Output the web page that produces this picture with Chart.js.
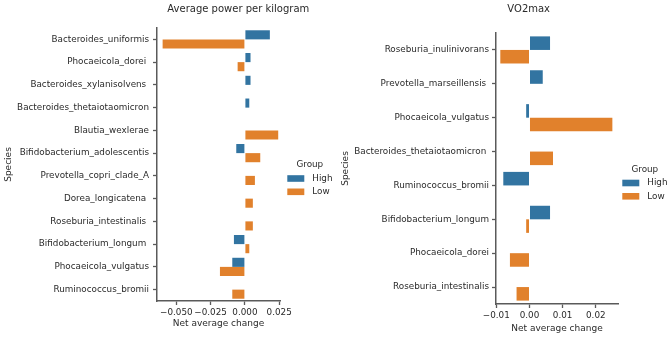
<!DOCTYPE html>
<html>
<head>
<meta charset="utf-8">
<script src="https://cdn.jsdelivr.net/npm/chart.js@4"></script>
<style>
  html,body{margin:0;padding:0;background:#fff;}
  #wrap{position:relative;width:670px;height:337px;overflow:hidden;}
  .panel{position:absolute;top:0;height:337px;}
</style>
</head>
<body>
<div id="wrap">
  <div class="panel" style="left:0;width:340px"><canvas id="c-power"></canvas></div>
  <div class="panel" style="left:340px;width:330px"><canvas id="c-vo2"></canvas></div>
</div>
<script>
// ── Data ──────────────────────────────────────────────────────────────────────
const GROUPS = ['High', 'Low'];
const COLORS = ['#3274a1', '#e1812c'];

const POWER_SPECIES = ['Bacteroides_uniformis','Phocaeicola_dorei ','Bacteroides_xylanisolvens ','Bacteroides_thetaiotaomicron',
  'Blautia_wexlerae','Bifidobacterium_adolescentis','Prevotella_copri_clade_A','Dorea_longicatena ',
  'Roseburia_intestinalis ','Bifidobacterium_longum ','Phocaeicola_vulgatus','Ruminococcus_bromii'];
const POWER_HIGH = [0.0182, 0.0041, 0.0041, 0.0032, null, -0.0063, null, null, null, -0.0080, -0.0092, null];
const POWER_LOW  = [-0.0600, -0.0053, null, null, 0.0243, 0.0112, 0.0073, 0.0058, 0.0058, 0.0032, -0.0182, -0.0092];
const POWER_TICKS = [-0.050, -0.025, 0.000, 0.025];

const VO2_SPECIES = ['Roseburia_inulinivorans','Prevotella_marseillensis ','Phocaeicola_vulgatus','Bacteroides_thetaiotaomicron ',
  'Ruminococcus_bromii','Bifidobacterium_longum','Phocaeicola_dorei','Roseburia_intestinalis'];
const VO2_HIGH = [0.0062, 0.0040, -0.0010, null, -0.0079, 0.0062, null, null];
const VO2_LOW  = [-0.0088, null, 0.0250, 0.0071, null, -0.0010, -0.0059, -0.0039];
const VO2_TICKS = [-0.01, 0.00, 0.01, 0.02];

// ── Shared style ──────────────────────────────────────────────────────────────
const FONT = 'DejaVu Sans';
const INK = '#2a2a2a';
const AXIS = '#5a5a5a';
const fmt = d => v => (Math.abs(v) < 1e-12 ? 0 : v) < 0 ? '\u2212' + Math.abs(v).toFixed(d) : Math.abs(v).toFixed(d);

// title + "Group" legend drawn on the canvas at set spots
const extras = {
  id: 'extras',
  afterDraw(chart, args, o) {
    const ctx = chart.ctx;
    ctx.save();
    ctx.fillStyle = INK;
    ctx.font = '10px "' + FONT + '"';
    ctx.textAlign = 'center'; ctx.textBaseline = 'alphabetic';
    ctx.fillText(o.title, o.titleX, 11.5);
    ctx.font = '8.8px "' + FONT + '"';
    ctx.textBaseline = 'middle';
    ctx.fillText('Group', o.legX + 22.5, o.legY);
    ctx.textAlign = 'left';
    GROUPS.forEach((g, i) => {
      const cy = o.legY + 13.5 + i * 13.3;
      ctx.fillStyle = COLORS[i];
      ctx.fillRect(o.legX, cy - 3.3, 17, 6.6);
      ctx.fillStyle = INK;
      ctx.fillText(g, o.legX + 25, cy);
    });
    ctx.restore();
  }
};

function makeChart(id, labels, high, low, ticks, cfg) {
  return new Chart(document.getElementById(id).getContext('2d'), {
    type: 'bar',
    data: {
      labels,
      datasets: [
        { label: GROUPS[0], data: high, backgroundColor: COLORS[0], borderWidth: 0 },
        { label: GROUPS[1], data: low,  backgroundColor: COLORS[1], borderWidth: 0 }
      ]
    },
    options: {
      indexAxis: 'y',
      responsive: true, maintainAspectRatio: false, animation: false,
      datasets: { bar: { categoryPercentage: 0.8, barPercentage: 1.0 } },
      layout: { padding: { top: cfg.top, right: cfg.right, bottom: 0, left: 0 } },
      plugins: {
        legend: { display: false }, tooltip: { enabled: false },
        extras: cfg.extras
      },
      scales: {
        x: {
          min: cfg.min, max: cfg.max,
          afterBuildTicks: s => { s.ticks = ticks.map(v => ({ value: v })); },
          afterFit: s => { s.height = cfg.xh; },
          grid: { drawOnChartArea: false, drawTicks: true, tickLength: 4, tickColor: AXIS, tickWidth: 1.3 },
          border: { display: true, color: AXIS, width: 1.5 },
          ticks: { color: INK, font: { family: FONT, size: 8.8 }, padding: 2, maxRotation: 0, callback: fmt(cfg.dec) },
          title: { display: true, text: 'Net average change', color: INK, font: { family: FONT, size: 9 }, padding: { top: 0, bottom: cfg.xtPad } }
        },
        y: {
          afterFit: s => { s.width = cfg.yw; },
          grid: { offset: false, drawOnChartArea: false, drawTicks: true, tickLength: 4, tickColor: AXIS, tickWidth: 1.3 },
          border: { display: true, color: AXIS, width: 1.5 },
          ticks: { color: INK, font: { family: FONT, size: 8.8 }, padding: cfg.ypad, autoSkip: false },
          title: { display: true, text: 'Species', color: INK, font: { family: FONT, size: 9 }, padding: { top: cfg.ytPad, bottom: 0 } }
        }
      }
    },
    plugins: [extras]
  });
}

makeChart('c-power', POWER_SPECIES, POWER_HIGH, POWER_LOW, POWER_TICKS, {
  top: 28, right: 60, xh: 36, yw: 157, ypad: 4, ytPad: 3, xtPad: 8,
  min: -0.0641, max: 0.0256, dec: 3,
  extras: { title: 'Average power per kilogram', titleX: 238.3, legX: 287.3, legY: 165 }
});

makeChart('c-vo2', VO2_SPECIES, VO2_HIGH, VO2_LOW, VO2_TICKS, {
  top: 33, right: 52, xh: 33, yw: 156, ypad: 3, ytPad: 0, xtPad: 3,
  min: -0.0101, max: 0.0267, dec: 2,
  extras: { title: 'VO2max', titleX: 188.7, legX: 282.3, legY: 169.5 }
});
</script>
</body>
</html>
